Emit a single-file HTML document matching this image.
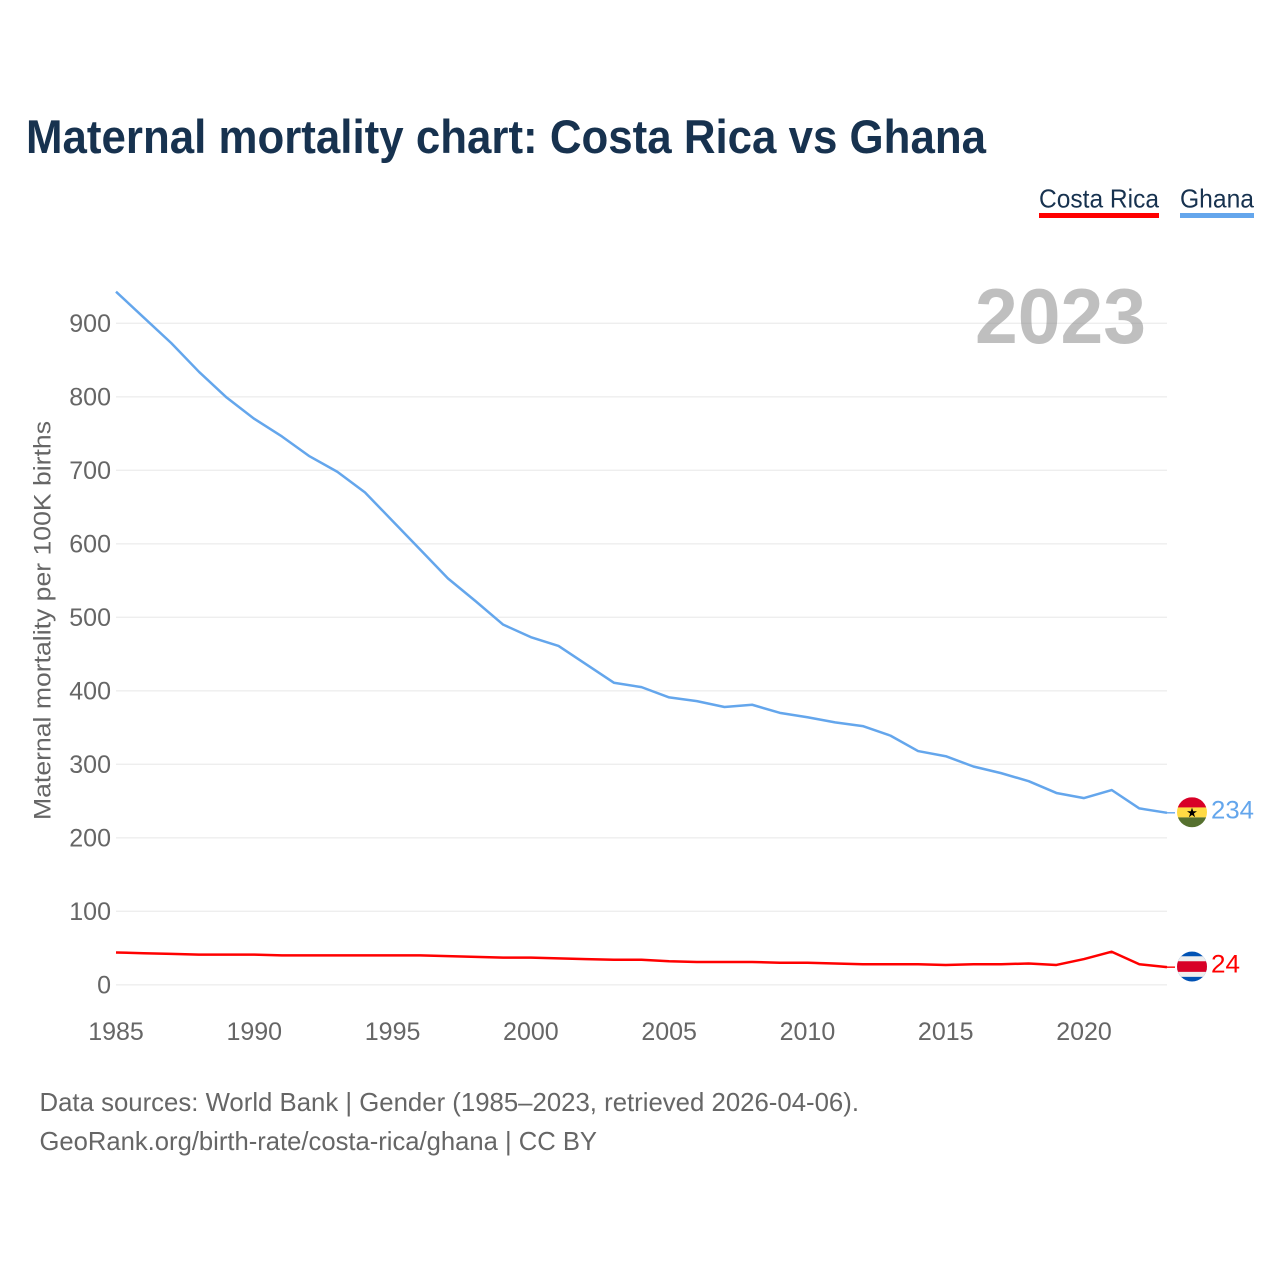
<!DOCTYPE html>
<html lang="en">
<head>
<meta charset="utf-8">
<title>Maternal mortality chart: Costa Rica vs Ghana</title>
<style>
html,body{margin:0;padding:0;background:#fff;width:1280px;height:1280px;overflow:hidden}
svg{display:block;font-family:"Liberation Sans",sans-serif}
</style>
</head>
<body>
<svg id="chart" xmlns="http://www.w3.org/2000/svg" width="1280" height="1280" viewBox="0 0 1280 1280">
  <rect x="0" y="0" width="1280" height="1280" fill="#ffffff"/>
  <text x="26" y="153" font-size="47" font-weight="700" fill="#17324f" textLength="960" lengthAdjust="spacingAndGlyphs">Maternal mortality chart: Costa Rica vs Ghana</text>

  <g>
    <g>
      <text x="1039" y="207.5" font-size="26" fill="#17324f" textLength="120" lengthAdjust="spacingAndGlyphs">Costa Rica</text>
      <rect x="1039" y="213" width="120" height="5" fill="#ff0000"/>
    </g>
    <g>
      <text x="1180" y="207.5" font-size="26" fill="#17324f" textLength="74" lengthAdjust="spacingAndGlyphs">Ghana</text>
      <rect x="1180" y="213" width="74" height="5" fill="#64a6ec"/>
    </g>
  </g>

  <g id="grid"></g>
  <text x="975" y="343" font-size="78" font-weight="700" fill="#808080" fill-opacity="0.5" textLength="171" lengthAdjust="spacingAndGlyphs">2023</text>
  <g id="yTicks"></g>
  <g id="xTicks"></g>
  <text transform="translate(50.5 820) rotate(-90)" x="0" y="0" font-size="24.5" fill="#666666" textLength="399" lengthAdjust="spacingAndGlyphs">Maternal mortality per 100K births</text>

  <g id="series"></g>

  <defs>
    <clipPath id="flagClip"><circle cx="0" cy="0" r="15"/></clipPath>
  </defs>
  <g id="flagGhana">
    <g clip-path="url(#flagClip)">
      <rect x="-15" y="-15" width="30" height="10.3" fill="#d80027"/>
      <rect x="-15" y="-4.8" width="30" height="10" fill="#ffda44"/>
      <rect x="-15" y="5.2" width="30" height="10" fill="#55702e"/>
      <polygon points="0,-4.6 1.2,-1 5,-1 1.9,1.3 3.1,5 0,2.7 -3.1,5 -1.9,1.3 -5,-1 -1.2,-1" fill="#000000"/>
    </g>
  </g>
  <g id="flagCostaRica">
    <g clip-path="url(#flagClip)">
      <rect x="-15" y="-15" width="30" height="30" fill="#0052b4"/>
      <rect x="-15" y="-10.3" width="30" height="20.6" fill="#eeeeee"/>
      <rect x="-15" y="-5.3" width="30" height="10.6" fill="#d80027"/>
    </g>
  </g>
  <text id="labelGhana" x="1211" font-size="25" fill="#64a6ec" textLength="43" lengthAdjust="spacingAndGlyphs"></text>
  <text id="labelCostaRica" x="1211" font-size="25" fill="#ff0000" textLength="29" lengthAdjust="spacingAndGlyphs"></text>

  <g>
    <text x="39.5" y="1111" font-size="26" fill="#666666" textLength="819.5" lengthAdjust="spacingAndGlyphs">Data sources: World Bank | Gender (1985–2023, retrieved 2026-04-06).</text>
    <text x="39.5" y="1150" font-size="26" fill="#666666" textLength="557.5" lengthAdjust="spacingAndGlyphs">GeoRank.org/birth-rate/costa-rica/ghana | CC BY</text>
  </g>
</svg>
<script>
const years = [1985,1986,1987,1988,1989,1990,1991,1992,1993,1994,1995,1996,1997,1998,1999,2000,2001,2002,2003,2004,2005,2006,2007,2008,2009,2010,2011,2012,2013,2014,2015,2016,2017,2018,2019,2020,2021,2022,2023];
const ghanaValues = [943,908,873,834,799,770,746,719,698,670,631,592,553,522,490,473,461,436,411,405,391,386,378,381,370,364,357,352,339,318,311,297,288,277,261,254,265,240,234];
const costaRicaValues = [44,43,42,41,41,41,40,40,40,40,40,40,39,38,37,37,36,35,34,34,32,31,31,31,30,30,29,28,28,28,27,28,28,29,27,35,45,28,24];
const yTickValues = [0,100,200,300,400,500,600,700,800,900];
const xTickValues = [1985,1990,1995,2000,2005,2010,2015,2020];

const NS = 'http://www.w3.org/2000/svg';
function xScale(year) { return 116 + (year - 1985) * (1167 - 116) / (2023 - 1985); }
function yScale(value) { return 984.8 - value * 0.735; }

const gridGroup = document.getElementById('grid');
const yGroup = document.getElementById('yTicks');
yTickValues.forEach(function (v) {
  const line = document.createElementNS(NS, 'line');
  
  
  line.setAttribute('x1', xScale(1985));
  line.setAttribute('x2', xScale(2023));
  line.setAttribute('y1', yScale(v));
  line.setAttribute('y2', yScale(v));
  line.setAttribute('stroke', '#eeeeee');
  line.setAttribute('stroke-width', '1.4');
  gridGroup.appendChild(line);

  const label = document.createElementNS(NS, 'text');
  
  
  label.setAttribute('x', 111);
  label.setAttribute('y', yScale(v) + 8.5);
  label.setAttribute('text-anchor', 'end');
  label.setAttribute('font-size', '25');
  label.setAttribute('fill', '#666666');
  label.textContent = v;
  yGroup.appendChild(label);
});

const xGroup = document.getElementById('xTicks');
xTickValues.forEach(function (yr) {
  const label = document.createElementNS(NS, 'text');
  
  
  label.setAttribute('x', xScale(yr));
  label.setAttribute('y', 1040);
  label.setAttribute('text-anchor', 'middle');
  label.setAttribute('font-size', '25');
  label.setAttribute('fill', '#666666');
  label.textContent = yr;
  xGroup.appendChild(label);
});

function pathFor(values) {
  return values.map(function (v, i) {
    return (i ? 'L' : 'M') + xScale(years[i]).toFixed(2) + ' ' + yScale(v).toFixed(2);
  }).join(' ');
}

const seriesGroup = document.getElementById('series');

const ghanaPath = document.createElementNS(NS, 'path');


ghanaPath.setAttribute('d', pathFor(ghanaValues));
ghanaPath.setAttribute('fill', 'none');
ghanaPath.setAttribute('stroke', '#64a6ec');
ghanaPath.setAttribute('stroke-width', '2.5');
ghanaPath.setAttribute('stroke-linejoin', 'round');
seriesGroup.appendChild(ghanaPath);

const costaPath = document.createElementNS(NS, 'path');


costaPath.setAttribute('d', pathFor(costaRicaValues));
costaPath.setAttribute('fill', 'none');
costaPath.setAttribute('stroke', '#ff0000');
costaPath.setAttribute('stroke-width', '2.5');
costaPath.setAttribute('stroke-linejoin', 'round');
seriesGroup.appendChild(costaPath);

const ghanaLast = ghanaValues[ghanaValues.length - 1];
const costaLast = costaRicaValues[costaRicaValues.length - 1];

const ghanaConnector = document.createElementNS(NS, 'line');


ghanaConnector.setAttribute('x1', xScale(2023));
ghanaConnector.setAttribute('x2', 1175);
ghanaConnector.setAttribute('y1', yScale(ghanaLast));
ghanaConnector.setAttribute('y2', yScale(ghanaLast));
ghanaConnector.setAttribute('stroke', '#64a6ec');
ghanaConnector.setAttribute('stroke-width', '1.4');
seriesGroup.appendChild(ghanaConnector);

const costaConnector = document.createElementNS(NS, 'line');


costaConnector.setAttribute('x1', xScale(2023));
costaConnector.setAttribute('x2', 1175);
costaConnector.setAttribute('y1', yScale(costaLast));
costaConnector.setAttribute('y2', yScale(costaLast));
costaConnector.setAttribute('stroke', '#ff0000');
costaConnector.setAttribute('stroke-width', '1.4');
seriesGroup.appendChild(costaConnector);

document.getElementById('flagGhana').setAttribute('transform', 'translate(1192 ' + (yScale(ghanaLast) - 0.6) + ')');
document.getElementById('flagCostaRica').setAttribute('transform', 'translate(1192 ' + (yScale(costaLast) - 0.6) + ')');

const labelGhana = document.getElementById('labelGhana');
labelGhana.setAttribute('y', yScale(ghanaLast) + 5.5);
labelGhana.textContent = ghanaLast;
const labelCosta = document.getElementById('labelCostaRica');
labelCosta.setAttribute('y', yScale(costaLast) + 5.5);
labelCosta.textContent = costaLast;
</script>
</body>
</html>
